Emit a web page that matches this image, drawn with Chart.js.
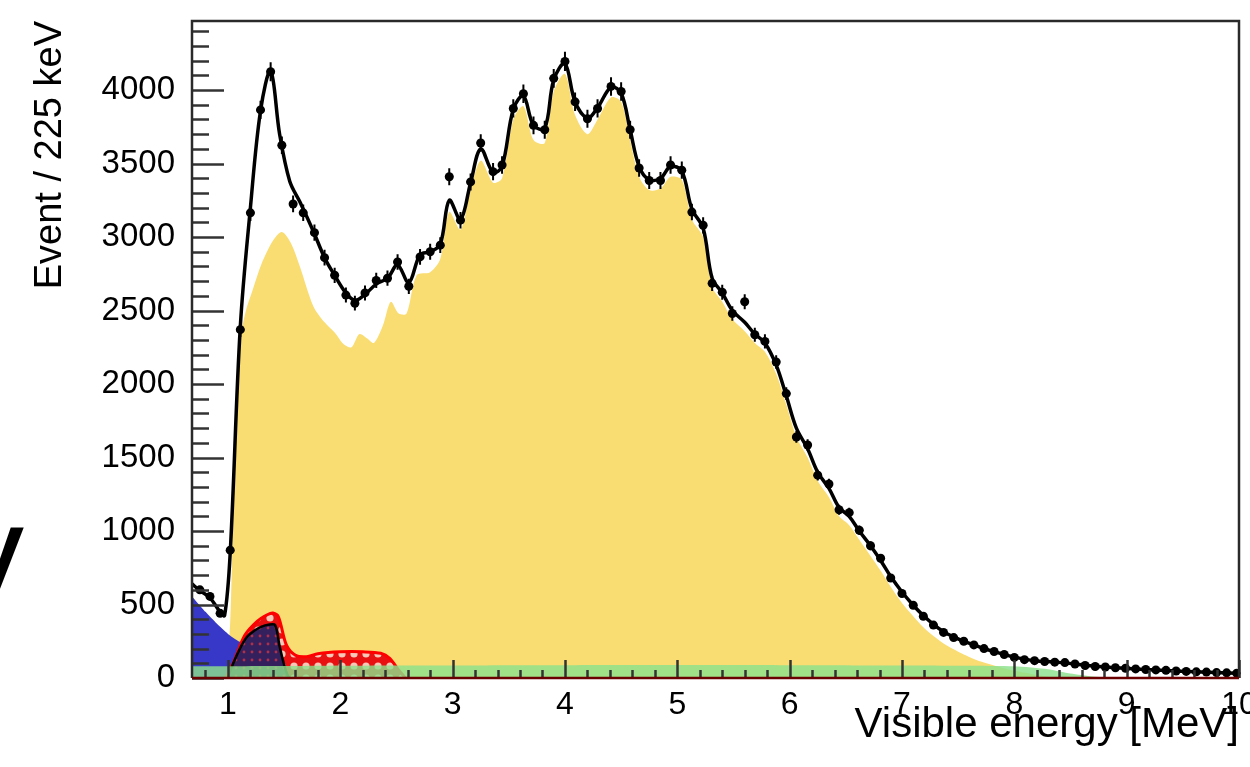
<!DOCTYPE html>
<html>
<head>
<meta charset="utf-8">
<script src="https://cdn.jsdelivr.net/npm/chart.js@4.4.0/dist/chart.umd.min.js"></script>
<style>
  html, body { margin: 0; padding: 0; background: #fff; overflow: hidden; }
  #wrap { position: relative; width: 1250px; height: 767px; overflow: hidden; }
  #c { position: absolute; left: 0; top: 0; }
  #stray { position: absolute; left: -46px; top: 483px; font: 140px/1 "Liberation Sans", Arial, sans-serif; color: #000; }
</style>
</head>
<body>
<div id="wrap">
  <canvas id="c" width="1270" height="767"></canvas>
  <div id="stray">y</div>
</div>
<script>
// measured points (energy in MeV, events per bin, error)
var pointE = [0.75, 0.84, 0.93, 1.02, 1.11, 1.20, 1.29, 1.38, 1.48, 1.58, 1.67, 1.77, 1.86, 1.95, 2.05, 2.13, 2.22, 2.32, 2.42, 2.51,
  2.61, 2.71, 2.80, 2.89, 2.97, 3.07, 3.16, 3.25, 3.36, 3.44, 3.54, 3.63, 3.72, 3.82, 3.90, 4.00, 4.09, 4.20, 4.29, 4.41,
  4.50, 4.58, 4.66, 4.75, 4.85, 4.94, 5.04, 5.13, 5.23, 5.31, 5.40, 5.49, 5.60, 5.69, 5.78, 5.88, 5.97, 6.06, 6.16, 6.25,
  6.35, 6.44, 6.53, 6.62, 6.72, 6.81, 6.90, 7.00, 7.10, 7.19, 7.28, 7.37, 7.46, 7.55, 7.64, 7.73, 7.82, 7.91, 8.00, 8.09,
  8.18, 8.27, 8.36, 8.45, 8.54, 8.63, 8.72, 8.81, 8.90, 8.99, 9.08, 9.17, 9.26, 9.35, 9.44, 9.53, 9.62, 9.71, 9.80, 9.89, 9.98];
var pointN = [600, 555, 440, 870, 2370, 3165, 3865, 4125, 3625, 3225, 3165, 3030, 2860, 2740, 2605, 2550, 2620, 2705, 2720, 2830,
  2665, 2865, 2900, 2945, 3410, 3115, 3375, 3640, 3445, 3490, 3875, 3975, 3760, 3730, 4080, 4195, 3920, 3805, 3875, 4025,
  3990, 3730, 3470, 3385, 3385, 3490, 3455, 3170, 3080, 2685, 2625, 2480, 2560, 2335, 2290, 2150, 1935, 1640, 1585, 1380,
  1320, 1145, 1125, 1005, 900, 815, 680, 575, 495, 420, 360, 310, 275, 250, 225, 200, 180, 160, 140, 125,
  118, 112, 108, 105, 95, 85, 78, 75, 70, 66, 62, 58, 55, 52, 48, 45, 42, 40, 37, 35, 32];
var pointErr = [25, 25, 22, 30, 50, 56, 62, 65, 60, 57, 56, 55, 54, 52, 51, 50, 51, 52, 52, 53,
  52, 54, 54, 54, 58, 56, 58, 60, 59, 59, 62, 63, 61, 61, 64, 65, 63, 62, 62, 63,
  63, 61, 59, 58, 58, 59, 59, 56, 55, 52, 51, 50, 51, 48, 48, 46, 44, 40, 40, 37,
  36, 34, 34, 32, 30, 29, 26, 24, 22, 20, 19, 18, 17, 16, 15, 14, 13, 13, 12, 11,
  11, 11, 10, 10, 10, 9, 9, 9, 8, 8, 8, 8, 7, 7, 7, 7, 6, 6, 6, 6, 6];

// best fit (total prediction)
var fitE = [0.68, 0.75, 0.84, 0.93, 0.97, 1.02, 1.11, 1.20, 1.29, 1.38, 1.46, 1.55, 1.64, 1.76, 1.86, 1.95, 2.05, 2.13, 2.22, 2.32,
  2.42, 2.51, 2.61, 2.71, 2.80, 2.89, 2.97, 3.07, 3.16, 3.25, 3.36, 3.44, 3.54, 3.63, 3.72, 3.82, 3.90, 4.00, 4.09, 4.20,
  4.29, 4.41, 4.50, 4.58, 4.66, 4.75, 4.85, 4.94, 5.04, 5.13, 5.23, 5.31, 5.40, 5.49, 5.60, 5.69, 5.78, 5.88, 5.97, 6.06,
  6.16, 6.25, 6.35, 6.44, 6.53, 6.62, 6.72, 6.81, 6.90, 7.00, 7.10, 7.19, 7.28, 7.37, 7.46, 7.55, 7.64, 7.73, 7.82, 7.91,
  8.00, 8.18, 8.36, 8.54, 8.72, 8.90, 9.08, 9.26, 9.44, 9.62, 9.80, 10.0];
var fitN = [640, 595, 545, 450, 425, 850, 2390, 3200, 3860, 4130, 3700, 3380, 3240, 3040, 2860, 2740, 2620, 2570, 2610, 2680,
  2720, 2810, 2690, 2880, 2900, 2950, 3250, 3120, 3370, 3600, 3440, 3480, 3870, 3960, 3760, 3740, 4070, 4180, 3920, 3810,
  3880, 4020, 3980, 3730, 3480, 3390, 3400, 3480, 3450, 3190, 3060, 2720, 2620, 2500, 2420, 2340, 2280, 2130, 1920, 1700,
  1560, 1400, 1290, 1160, 1100, 1000, 900, 800, 690, 585, 495, 425, 365, 315, 280, 250, 225, 200, 180, 160,
  142, 118, 108, 95, 80, 70, 62, 55, 48, 42, 37, 32];

// reactor component (yellow)
var yelE = [0.98, 1.02, 1.05, 1.08, 1.11, 1.16, 1.22, 1.30, 1.40, 1.48, 1.56, 1.64, 1.76, 1.86, 1.95, 2.03, 2.10, 2.17, 2.24, 2.30,
  2.38, 2.45, 2.52, 2.59, 2.68, 2.80, 2.89, 2.97, 3.07, 3.16, 3.25, 3.36, 3.44, 3.54, 3.63, 3.72, 3.82, 3.90, 4.00, 4.09,
  4.20, 4.29, 4.41, 4.50, 4.58, 4.66, 4.75, 4.85, 4.94, 5.04, 5.13, 5.23, 5.31, 5.40, 5.49, 5.60, 5.69, 5.78, 5.88, 5.97,
  6.06, 6.16, 6.25, 6.35, 6.44, 6.53, 6.62, 6.72, 6.81, 6.90, 7.00, 7.10, 7.19, 7.28, 7.37, 7.46, 7.55, 7.64, 7.73, 7.82,
  7.91, 8.00, 8.10, 8.20, 8.30, 8.40];
var yelN = [0, 380, 1250, 1950, 2300, 2500, 2640, 2820, 2975, 3035, 2960, 2800, 2530, 2420, 2350, 2270, 2250, 2340, 2310, 2280,
  2400, 2560, 2480, 2480, 2740, 2760, 2850, 3170, 3050, 3320, 3520, 3370, 3400, 3800, 3890, 3660, 3640, 3990, 4110, 3830,
  3700, 3800, 3950, 3920, 3660, 3410, 3320, 3330, 3410, 3390, 3120, 3000, 2660, 2560, 2440, 2360, 2280, 2220, 2070, 1860,
  1640, 1500, 1340, 1230, 1100, 1040, 940, 830, 730, 620, 510, 420, 345, 285, 235, 195, 160, 130, 105, 85,
  65, 50, 35, 20, 8, 0];

// backgrounds
var grnE = [0.68, 1.5, 2.6, 4.0, 5.0, 6.0, 7.0, 8.0, 8.3, 8.5, 8.7, 9.0];
var grnN = [80, 82, 85, 87, 88, 87, 85, 80, 60, 30, 10, 0];
var bluE = [0.68, 0.8, 0.9, 1.0, 1.1, 1.2, 1.3, 1.4, 1.5, 1.6, 1.7, 1.8, 1.9, 2.0];
var bluN = [555, 450, 370, 300, 248, 228, 218, 212, 205, 165, 115, 60, 15, 0];
var redE = [0.98, 1.05, 1.15, 1.26, 1.35, 1.40, 1.45, 1.52, 1.60, 1.70, 1.80, 2.00, 2.20, 2.36, 2.44, 2.52, 2.58];
var redN = [0, 110, 290, 385, 430, 442, 415, 225, 155, 145, 165, 178, 178, 168, 134, 54, 0];
var geoE = [1.00, 1.02, 1.10, 1.17, 1.24, 1.30, 1.36, 1.42, 1.46, 1.50, 1.53, 1.55];
var geoN = [0, 50, 190, 280, 325, 350, 362, 360, 215, 90, 20, 0];

// axis labels
var xTicks = [1, 2, 3, 4, 5, 6, 7, 8, 9, 10];
var yTicks = [0, 500, 1000, 1500, 2000, 2500, 3000, 3500, 4000];
var yTickMax = 4400;

function xy(xs, ys) {
  return xs.map(function (x, i) { return { x: x, y: ys[i] }; });
}

function makePattern(bg, fg, size, r) {
  var p = document.createElement("canvas");
  p.width = size; p.height = size;
  var c = p.getContext("2d");
  c.fillStyle = bg;
  c.fillRect(0, 0, size, size);
  c.fillStyle = fg;
  c.beginPath();
  c.arc(size / 2, size / 2, r, 0, Math.PI * 2);
  c.fill();
  return c.createPattern(p, "repeat");
}

var redFill = makePattern("#e81010", "#f6c8b8", 12, 3.6);
var geoFill = makePattern("#35205e", "#b0304a", 8, 1.4);

// ROOT-like inner ticks, frame and error bars
var frame = {
  id: "frame",
  afterDatasetsDraw: function (chart) {
    var ctx = chart.ctx, a = chart.chartArea;
    var xs = chart.scales.x, ys = chart.scales.y;
    ctx.save();

    // error bars
    var meta = chart.getDatasetMeta(0);
    ctx.strokeStyle = "#000";
    ctx.lineWidth = 2;
    meta.data.forEach(function (pt, i) {
      var t = ys.getPixelForValue(pointN[i] + pointErr[i]);
      var b = ys.getPixelForValue(pointN[i] - pointErr[i]);
      ctx.beginPath();
      ctx.moveTo(pt.x, t); ctx.lineTo(pt.x, b);
      ctx.moveTo(pt.x - 4, pt.y); ctx.lineTo(pt.x + 4, pt.y);
      ctx.stroke();
    });

    // y ticks
    ctx.strokeStyle = "#333";
    ctx.lineWidth = 2.5;
    for (var v = 0; v <= yTickMax; v += 100) {
      var py = Math.round(ys.getPixelForValue(v)) + 0.5;
      var len = (v % 500 === 0) ? 32 : 17;
      ctx.beginPath();
      ctx.moveTo(a.left, py); ctx.lineTo(a.left + len, py);
      ctx.stroke();
    }
    // x ticks
    for (var k = 4; k <= 50; k++) {
      var e = k / 5;
      var px = Math.round(xs.getPixelForValue(e)) + 0.5;
      var l = (k % 5 === 0) ? 18 : 8;
      ctx.beginPath();
      ctx.moveTo(px, a.bottom); ctx.lineTo(px, a.bottom - l);
      ctx.stroke();
    }

    // frame
    ctx.strokeStyle = "#2a2a2a";
    ctx.lineWidth = 2.5;
    ctx.beginPath();
    ctx.moveTo(a.left, a.bottom); ctx.lineTo(a.left, a.top);
    ctx.lineTo(a.right, a.top); ctx.lineTo(a.right, a.bottom);
    ctx.stroke();
    ctx.strokeStyle = "#6a0000";
    ctx.beginPath();
    ctx.moveTo(a.left, a.bottom); ctx.lineTo(a.right, a.bottom);
    ctx.stroke();
    ctx.restore();
  }
};

var fontFam = "'Liberation Sans', Arial, sans-serif";
var ctx = document.getElementById("c").getContext("2d");

var myChart = new Chart(ctx, {
  type: "line",
  data: {
    datasets: [
      { label: "Data", data: xy(pointE, pointN), showLine: false, pointRadius: 4.5,
        pointBackgroundColor: "#000", pointBorderWidth: 0 },
      { label: "Best fit", data: xy(fitE, fitN), borderColor: "#000", borderWidth: 3.5,
        pointRadius: 0, tension: 0.35, fill: false },
      { label: "Green", data: xy(grnE, grnN), borderWidth: 0, borderColor: "rgba(0,0,0,0)",
        backgroundColor: "rgba(140,225,140,0.82)", fill: "origin", pointRadius: 0, tension: 0.2 },
      { label: "Geo", data: xy(geoE, geoN), borderColor: "#000", borderWidth: 2.5,
        backgroundColor: geoFill, fill: "origin", pointRadius: 0, tension: 0.3 },
      { label: "Red", data: xy(redE, redN), borderColor: "#ff0000", borderWidth: 3,
        backgroundColor: redFill, fill: "origin", pointRadius: 0, tension: 0.3 },
      { label: "Blue", data: xy(bluE, bluN), borderWidth: 0, borderColor: "rgba(0,0,0,0)",
        backgroundColor: "#3838c8", fill: "origin", pointRadius: 0, tension: 0.1 },
      { label: "Reactor", data: xy(yelE, yelN), borderWidth: 0, borderColor: "rgba(0,0,0,0)",
        backgroundColor: "#f9dc72", fill: "origin", pointRadius: 0, tension: 0.3 }
    ]
  },
  options: {
    responsive: false,
    animation: false,
    devicePixelRatio: 1,
    layout: { padding: { left: 0, right: 31, top: 21, bottom: 0 } },
    plugins: { legend: { display: false }, tooltip: { enabled: false } },
    scales: {
      x: {
        type: "linear", min: 0.68, max: 10,
        grid: { display: false }, border: { display: false },
        afterBuildTicks: function (s) { s.ticks = xTicks.map(function (v) { return { value: v }; }); },
        ticks: { autoSkip: false, maxRotation: 0, padding: 0,
          callback: function (v) { return String(v); },
          color: "#000", font: { family: fontFam, size: 32 } },
        title: { display: true, text: "Visible energy [MeV]", align: "end", color: "#000",
          font: { family: fontFam, size: 42 }, padding: { top: 0, bottom: 16 } },
        afterFit: function (s) { s.height = 89; s.paddingLeft = 0; s.paddingRight = 0; }
      },
      y: {
        type: "linear", min: 0, max: 4470,
        grid: { display: false }, border: { display: false },
        afterBuildTicks: function (s) { s.ticks = yTicks.map(function (v) { return { value: v }; }); },
        ticks: { padding: 9, callback: function (v) { return String(v); },
          color: "#000", font: { family: fontFam, size: 33 } },
        title: { display: true, text: "Event / 225 keV", align: "end", color: "#000",
          font: { family: fontFam, size: 38 }, padding: { top: 28, bottom: 0 } },
        afterFit: function (s) { s.width = 192; s.paddingTop = 0; s.paddingBottom = 0; }
      }
    }
  },
  plugins: [frame]
});
</script>
</body>
</html>
